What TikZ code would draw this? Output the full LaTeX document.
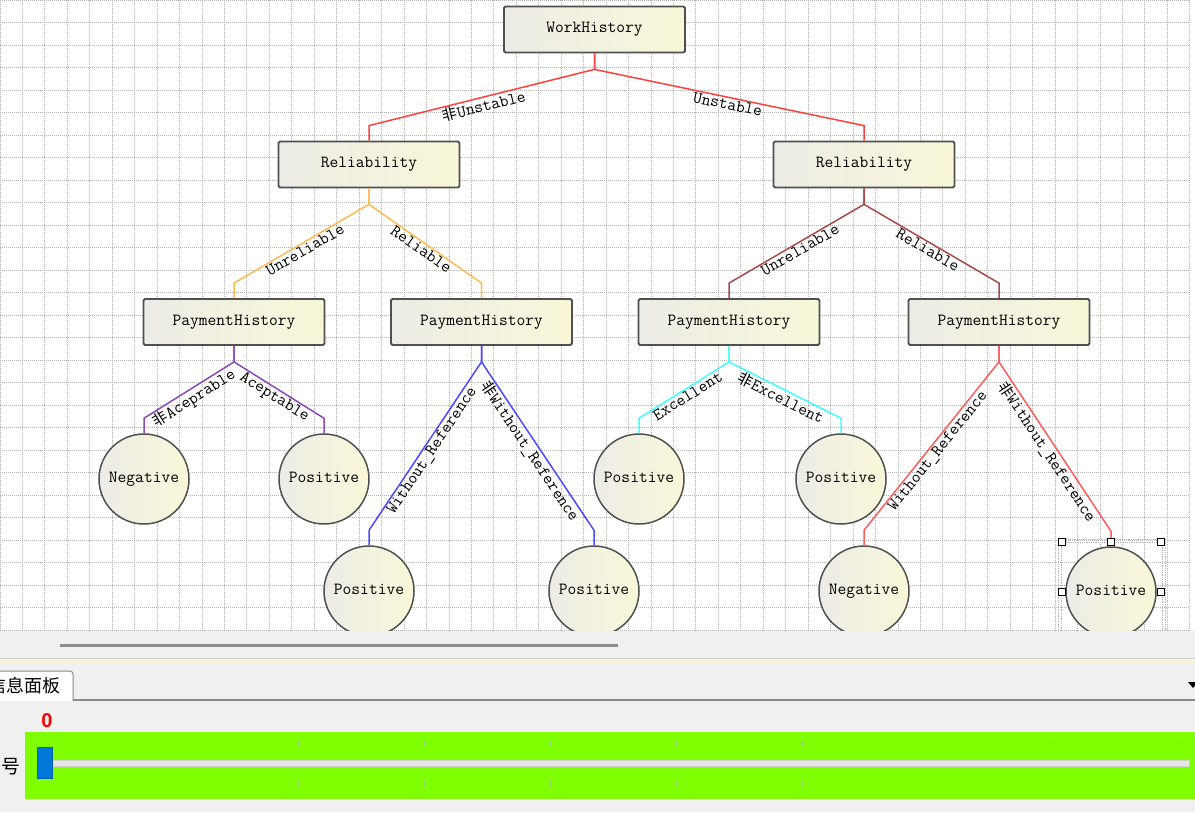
\documentclass[tikz,border=0pt]{standalone}
\usepackage{fontspec}
\newfontfamily\cjk{Noto Sans CJK SC}
\newfontfamily\uifont{Liberation Sans}
\newcommand{\nonmark}{{\cjk\fontsize{15}{15}\selectfont 非}}
% colours of the canvas
\definecolor{gridgray}{HTML}{B2B2B2}
\definecolor{boxline}{HTML}{505050}
\definecolor{boxL}{HTML}{ECECE6}
\definecolor{boxR}{HTML}{F9F7D8}
\definecolor{lineRed}{HTML}{FF4040}
\definecolor{lineOrange}{HTML}{FFBA50}
\definecolor{lineMaroon}{HTML}{A84A4A}
\definecolor{linePurple}{HTML}{8A4AB8}
\definecolor{lineBlue}{HTML}{4A4AFF}
\definecolor{lineCyan}{HTML}{40FFFF}
\definecolor{linePink}{HTML}{FF5C5C}
% colours of the panel
\definecolor{panelgray}{HTML}{F0F0F0}
\definecolor{thumbgray}{HTML}{8C8C8C}
\definecolor{sepbeige}{HTML}{F6F2DC}
\definecolor{tabline}{HTML}{8A8A8A}
\definecolor{barGreen}{HTML}{7FFF00}
\definecolor{tickgray}{HTML}{A2BC94}
\definecolor{trackgray}{HTML}{E6E6E6}
\definecolor{trackline}{HTML}{CFCFCF}
\definecolor{thumbBlue}{HTML}{0078D7}
\definecolor{thumbEdge}{HTML}{005EA8}
\tikzset{
  treetext/.style={font=\ttfamily\fontsize{17}{17}\selectfont, text=black},
  box/.style={treetext, draw=boxline, line width=1.8pt, rounded corners=1.5pt,
    minimum width=181pt, minimum height=46pt, left color=boxL, right color=boxR,
    text height=8pt, text depth=2pt},
  leaf/.style={treetext, circle, draw=boxline, line width=1.5pt, minimum size=90pt,
    inner sep=0pt, left color=boxL, right color=boxR, text height=8pt, text depth=2pt},
  lbl/.style={treetext, sloped, below, inner sep=1pt},
  branch/.style={line width=1.5pt},
  gridline/.style={gridgray, line width=1pt, densely dotted},
  handle/.style={draw=black, fill=white, line width=0.8pt, minimum size=7pt, inner sep=0pt},
}
\begin{document}
\begin{tikzpicture}[x=1pt,y=-1pt]
  \useasboundingbox (0,0) rectangle (1195,812);
  % canvas with its grid
  \fill[white] (0,0) rectangle (1195,631);
  \begin{scope}
    \clip (0,0) rectangle (1190,631);
    \foreach \k in {0,...,53} \draw[gridline] (22.45*\k,0) -- (22.45*\k,631);
    \foreach \k in {0,...,28} \draw[gridline] (0,22.5*\k) -- (1190,22.5*\k);
  \end{scope}
  \begin{scope}
    \clip (0,0) rectangle (1195,631);
    % decision nodes
    \node[box] (work) at (594.5,29.5) {WorkHistory};
    \node[box] (relL) at (369,164.5) {Reliability};
    \node[box] (relR) at (864,164.5) {Reliability};
    \node[box] (payA) at (234,322) {PaymentHistory};
    \node[box] (payB) at (481.5,322) {PaymentHistory};
    \node[box] (payC) at (729,322) {PaymentHistory};
    \node[box] (payD) at (999,322) {PaymentHistory};
    % leaves
    \node[leaf] (negA) at (144,479) {Negative};
    \node[leaf] (posA) at (324,479) {Positive};
    \node[leaf] (posB) at (639,479) {Positive};
    \node[leaf] (posC) at (841,479) {Positive};
    \node[leaf] (posD) at (369,591) {Positive};
    \node[leaf] (posE) at (594,591) {Positive};
    \node[leaf] (negB) at (864,591) {Negative};
    % selection frame round the last leaf
    \draw[gridgray, densely dotted, line width=0.8pt] (1058,539) rectangle (1165,640);
    \draw[gridgray, densely dotted, line width=0.8pt] (1061,542) rectangle (1162,640);
    \node[leaf] (posF) at (1111,592) {Positive};
    % branches, stem first then the slope
    \draw[branch, lineRed] (work.south) -- ([yshift=-16pt]work.south)
      -- node[lbl] {\nonmark Unstable} ([yshift=15pt]relL.north) -- (relL.north);
    \draw[branch, lineRed] (work.south) -- ([yshift=-16pt]work.south)
      -- node[lbl] {Unstable} ([yshift=15pt]relR.north) -- (relR.north);
    \draw[branch, lineOrange] (relL.south) -- ([yshift=-16pt]relL.south)
      -- node[lbl] {Unreliable} ([yshift=15pt]payA.north) -- (payA.north);
    \draw[branch, lineOrange] (relL.south) -- ([yshift=-16pt]relL.south)
      -- node[lbl] {Reliable} ([yshift=15pt]payB.north) -- (payB.north);
    \draw[branch, lineMaroon] (relR.south) -- ([yshift=-16pt]relR.south)
      -- node[lbl] {Unreliable} ([yshift=15pt]payC.north) -- (payC.north);
    \draw[branch, lineMaroon] (relR.south) -- ([yshift=-16pt]relR.south)
      -- node[lbl] {Reliable} ([yshift=15pt]payD.north) -- (payD.north);
    \draw[branch, linePurple] (payA.south) -- ([yshift=-16pt]payA.south)
      -- node[lbl] {\nonmark Aceprable} ([yshift=15pt]negA.north) -- (negA.north);
    \draw[branch, linePurple] (payA.south) -- ([yshift=-16pt]payA.south)
      -- node[lbl] {Aceptable} ([yshift=15pt]posA.north) -- (posA.north);
    \draw[branch, lineBlue] (payB.south) -- ([yshift=-16pt]payB.south)
      -- node[lbl] {Without\_Reference} ([yshift=15pt]posD.north) -- (posD.north);
    \draw[branch, lineBlue] (payB.south) -- ([yshift=-16pt]payB.south)
      -- node[lbl] {\nonmark Without\_Reference} ([yshift=15pt]posE.north) -- (posE.north);
    \draw[branch, lineCyan] (payC.south) -- ([yshift=-16pt]payC.south)
      -- node[lbl] {Excellent} ([yshift=15pt]posB.north) -- (posB.north);
    \draw[branch, lineCyan] (payC.south) -- ([yshift=-16pt]payC.south)
      -- node[lbl] {\nonmark Excellent} ([yshift=15pt]posC.north) -- (posC.north);
    \draw[branch, linePink] (payD.south) -- ([yshift=-16pt]payD.south)
      -- node[lbl] {Without\_Reference} ([yshift=15pt]negB.north) -- (negB.north);
    \draw[branch, linePink] (payD.south) -- ([yshift=-16pt]payD.south)
      -- node[lbl] {\nonmark Without\_Reference} ([yshift=15pt]posF.north) -- (posF.north);
    % handles of the selection
    \foreach \hx/\hy [count=\n] in {1062/542, 1111/542, 1161/542, 1062/592, 1161/592}
      \node[handle] (hnd\n) at (\hx,\hy) {};
  \end{scope}
  % panel below the canvas
  \fill[panelgray] (0,631) rectangle (1195,812);
  \draw[thumbgray, line width=3pt] (60,645) -- (618,645);
  \draw[trackline, line width=0.8pt] (0,658) -- (1195,658);
  \fill[sepbeige] (0,659) rectangle (1195,663);
  \draw[tabline, fill=white, line width=1pt, rounded corners=3pt] (-3,701) -- (-3,671) -- (73,671) -- (73,701);
  \draw[tabline, line width=1.8pt] (73,700) -- (1195,700);
  \node[anchor=east, inner sep=0pt, font=\cjk\fontsize{18}{18}\selectfont] (tab) at (61,686) {信息面板};
  \fill[black] (1188,682) -- (1198,682) -- (1193,688) -- cycle;
  \node[inner sep=0pt, text=red, font=\uifont\bfseries\fontsize{20}{20}\selectfont] (count) at (47,721) {0};
  \node[anchor=east, inner sep=0pt, font=\cjk\fontsize{19}{19}\selectfont] (idlabel) at (20.5,766) {编号};
  % slider
  \fill[barGreen] (25,732) rectangle (1195,799);
  \foreach \i in {0,...,9} {
    \draw[tickgray, line width=1pt] (45.7+126.2*\i,741) -- ++(0,4);
    \draw[tickgray, line width=1pt] (45.7+126.2*\i,782) -- ++(0,4);
  }
  \draw[trackline, fill=trackgray, line width=0.8pt] (40,760) rectangle (1189,766);
  \draw[thumbEdge, fill=thumbBlue, line width=0.6pt] (37.5,747) rectangle (52.5,778);
\end{tikzpicture}
\end{document}
